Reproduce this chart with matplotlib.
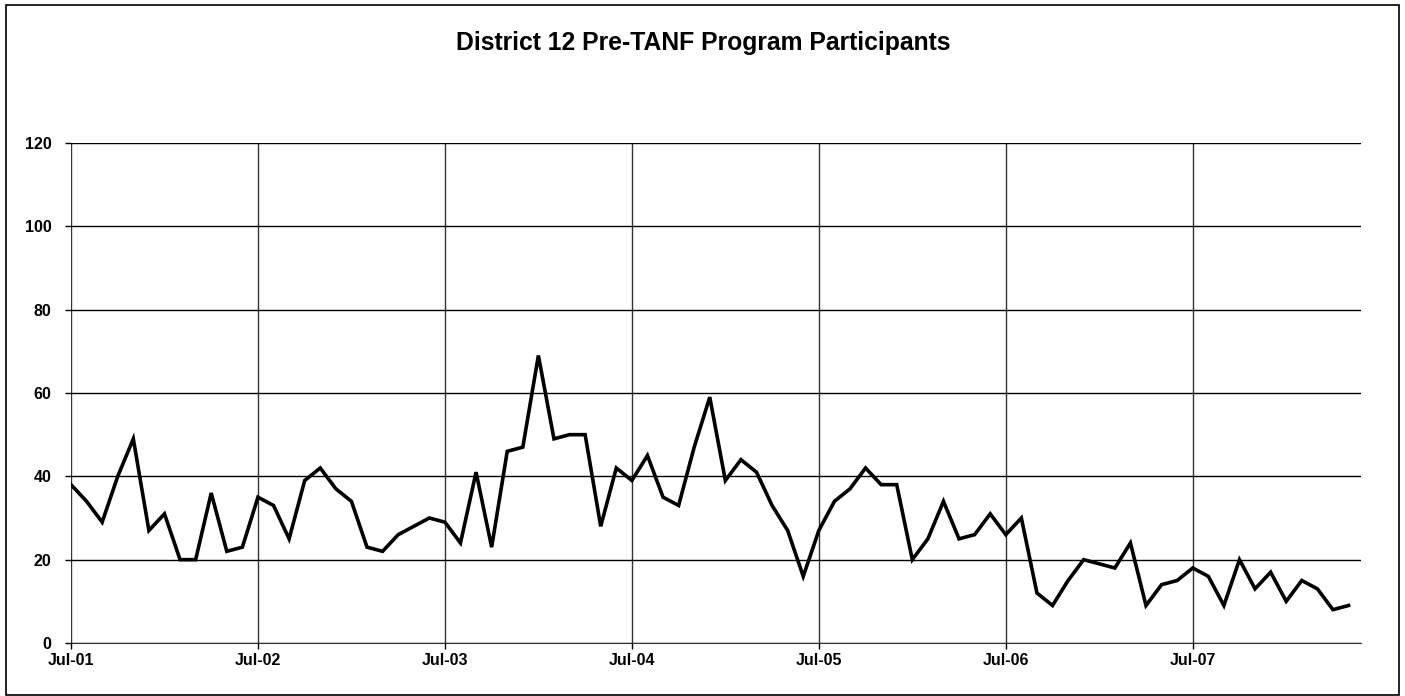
import matplotlib.pyplot as plt
from matplotlib.patches import Rectangle
import numpy as np

plt.rcParams['font.family'] = ['Liberation Sans', 'DejaVu Sans']

# monthly participants, Jul-01 .. May-08
participants = [38, 34, 29, 40, 49, 27, 31, 20, 20, 36, 22, 23,
                35, 33, 25, 39, 42, 37, 34, 23, 22, 26, 28, 30,
                29, 24, 41, 23, 46, 47, 69, 49, 50, 50, 28, 42,
                39, 45, 35, 33, 47, 59, 39, 44, 41, 33, 27, 16,
                27, 34, 37, 42, 38, 38, 20, 25, 34, 25, 26, 31,
                26, 30, 12, 9, 15, 20, 19, 18, 24, 9, 14, 15,
                18, 16, 9, 20, 13, 17, 10, 15, 13, 8, 9]
tick_labels = ['Jul-01', 'Jul-02', 'Jul-03', 'Jul-04', 'Jul-05', 'Jul-06', 'Jul-07']
y_ticks = [0, 20, 40, 60, 80, 100, 120]

months = np.arange(len(participants))

fig = plt.figure(figsize=(14.05, 6.96), dpi=100)
ax = fig.add_axes([71/1405, 53/696, (1361-71)/1405, 500/696])

ax.plot(months, participants, color='black', linewidth=2.6, solid_joinstyle='miter')

ax.set_xlim(0, 82.8)
ax.set_ylim(0, 120)
ax.set_xticks(np.arange(0, 12*len(tick_labels), 12))
ax.set_xticklabels(tick_labels, fontweight='bold', fontsize=11.5)
ax.set_yticks(y_ticks)
ax.set_yticklabels([str(v) for v in y_ticks], fontweight='bold', fontsize=11.5)
ax.tick_params(axis='both', length=4, width=1, color='black')
ax.tick_params(axis='x', pad=3)
ax.tick_params(axis='y', pad=10)

ax.grid(axis='y', color='black', linewidth=1)
ax.grid(axis='x', color='#333333', linewidth=1)
ax.set_axisbelow(True)
for s in ['top', 'right', 'left']:
    ax.spines[s].set_visible(False)
ax.spines['bottom'].set_color('#333333')

fig.text(703/1405, 1 - 43/696, 'District 12 Pre-TANF Program Participants',
         ha='center', va='center', fontsize=17.8, fontweight='bold')

fig.patches.append(Rectangle((6/1405, 1/696), 1393/1405, 690/696, transform=fig.transFigure,
                             fill=False, edgecolor='black', linewidth=1.2))

fig.savefig('out.png', dpi=100)
